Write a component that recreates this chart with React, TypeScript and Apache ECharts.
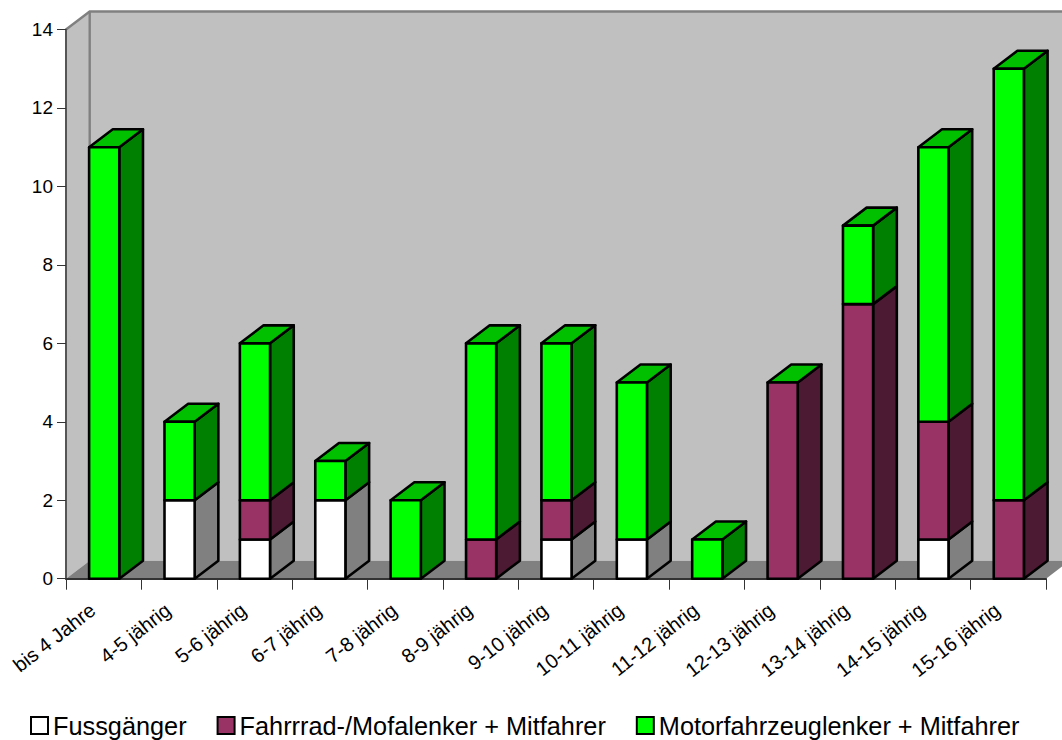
import React, { useEffect, useRef } from "react";
import * as echarts from "echarts";

const categories = ["bis 4 Jahre","4-5 jährig","5-6 jährig","6-7 jährig","7-8 jährig","8-9 jährig","9-10 jährig","10-11 jährig","11-12 jährig","12-13 jährig","13-14 jährig","14-15 jährig","15-16 jährig"];
const fussgaenger = [0,2,1,2,0,0,1,1,0,0,0,1,0];
const fahrrad = [0,0,1,0,0,1,1,0,0,5,7,3,2];
const motor = [11,2,4,1,2,5,4,4,1,0,2,7,11];
const seriesNames = ["Fussgänger","Fahrrrad-/Mofalenker + Mitfahrer","Motorfahrzeuglenker + Mitfahrer"];
const DX = 23.7, DY = 18;
const FONT = "'Liberation Sans', Arial, sans-serif";
const TOP_GREEN = "#00c000";

const palette = [
  { front: "#ffffff", side: "#808080" },
  { front: "#993366", side: "#4d1a33" },
  { front: "#00ff00", side: "#008000" },
];

const totals = categories.map((_, i) => fussgaenger[i] + fahrrad[i] + motor[i]);

function rows(values: number[], below: number[]) {
  return values.map((v, i) => [i, below[i], below[i] + v]).filter((r) => r[2] > r[1]);
}
const zeros = categories.map(() => 0);
const base2 = fussgaenger.map((v, i) => v + fahrrad[i]);

function barRenderer(colors: { front: string; side: string }) {
  return (params: any, api: any) => {
    const i = api.value(0), lo = api.value(1), hi = api.value(2);
    const [cx, y0] = api.coord([i, lo]);
    const [, y1] = api.coord([i, hi]);
    const w = api.size([1, 0])[0] * 0.4;
    const x0 = cx - w / 2 + 0.5, x1 = cx + w / 2 + 0.5;
    const line = { stroke: "#000", lineWidth: 2.6, lineJoin: "round" };
    const children: any[] = [
      { type: "polygon", shape: { points: [[x1, y0], [x1 + DX, y0 - DY], [x1 + DX, y1 - DY], [x1, y1]] }, style: { fill: colors.side, ...line } },
    ];
    if (hi === totals[i]) {
      children.push({ type: "polygon", shape: { points: [[x0, y1], [x0 + DX, y1 - DY], [x1 + DX, y1 - DY], [x1, y1]] }, style: { fill: TOP_GREEN, ...line } });
    }
    children.push({ type: "rect", shape: { x: x0, y: y1, width: w, height: y0 - y1 }, style: { fill: colors.front, ...line } });
    return { type: "group", children };
  };
}

function wallRenderer(params: any, api: any) {
  const step = api.size([1, 0])[0];
  const [c0, b] = api.coord([0, 0]);
  const [, t] = api.coord([0, 14]);
  const [cn] = api.coord([categories.length - 1, 0]);
  const l = c0 - step / 2, r = cn + step / 2;
  const grey = { stroke: "#808080", lineWidth: 2.4 };
  return {
    type: "group",
    children: [
      { type: "polygon", shape: { points: [[l + DX, t - DY], [r + DX, t - DY], [r + DX, b - DY], [l + DX, b - DY]] }, style: { fill: "#c0c0c0" } },
      { type: "polygon", shape: { points: [[l, b], [l + DX, b - DY], [l + DX, t - DY], [l, t]] }, style: { fill: "#c0c0c0" } },
      { type: "polygon", shape: { points: [[l, b], [l + DX, b - DY], [r + DX, b - DY], [r, b]] }, style: { fill: "#808080" } },
      { type: "polyline", shape: { points: [[l, t], [l + DX, t - DY], [r + DX, t - DY]] }, style: { fill: "none", ...grey } },
      { type: "line", shape: { x1: l + DX, y1: t - DY, x2: l + DX, y2: b - DY }, style: grey },
    ],
  };
}

export default function App() {
  const ref = useRef<HTMLDivElement>(null);
  useEffect(() => {
    document.body.style.margin = "0";
    const chart = echarts.init(ref.current!, undefined, { renderer: "svg" });
    const mk = (idx: number, data: number[][]) => ({
      type: "custom",
      name: seriesNames[idx],
      renderItem: barRenderer(palette[idx]),
      data,
      encode: { x: 0, y: 2 },
      itemStyle: { color: palette[idx].front, borderColor: "#000", borderWidth: 2.6 },
      z: 3 + idx,
      silent: true,
    });
    chart.setOption({
      animation: false,
      backgroundColor: "#ffffff",
      grid: { left: 66, top: 29.5, right: 16, bottom: 161.3 },
      xAxis: {
        type: "category",
        data: categories,
        boundaryGap: true,
        z: 2,
        axisLine: { lineStyle: { color: "#333", width: 2 } },
        axisTick: { show: true, alignWithLabel: false, length: 11, lineStyle: { color: "#333", width: 1 } },
        axisLabel: { interval: 0, rotate: 38, color: "#000", fontFamily: FONT, fontSize: 20, margin: 20, padding: [0, 14, 0, 0] },
      },
      yAxis: {
        type: "value",
        min: 0,
        max: 14,
        interval: 2,
        z: 2,
        splitLine: { show: false },
        axisLine: { show: true, lineStyle: { color: "#555", width: 2 } },
        axisTick: { show: true, length: 9, lineStyle: { color: "#333", width: 1 } },
        axisLabel: { color: "#000", fontFamily: FONT, fontSize: 19, margin: 13 },
      },
      legend: {
        left: 30,
        top: 713,
        padding: 0,
        itemWidth: 17,
        itemHeight: 17,
        itemGap: 30,
        icon: "rect",
        data: seriesNames,
        selectedMode: false,
        textStyle: { color: "#000", fontFamily: FONT, fontSize: 25.3 },
      },
      series: [
        { type: "custom", renderItem: wallRenderer, data: [[0, 0]], encode: { x: 0, y: 1 }, z: 0, silent: true, name: "Hintergrund" },
        mk(0, rows(fussgaenger, zeros)),
        mk(1, rows(fahrrad, fussgaenger)),
        mk(2, rows(motor, base2)),
      ],
    });
    return () => chart.dispose();
  }, []);
  return <div ref={ref} style={{ position: "absolute", left: 0, top: 0, width: 1062, height: 740 }} />;
}
